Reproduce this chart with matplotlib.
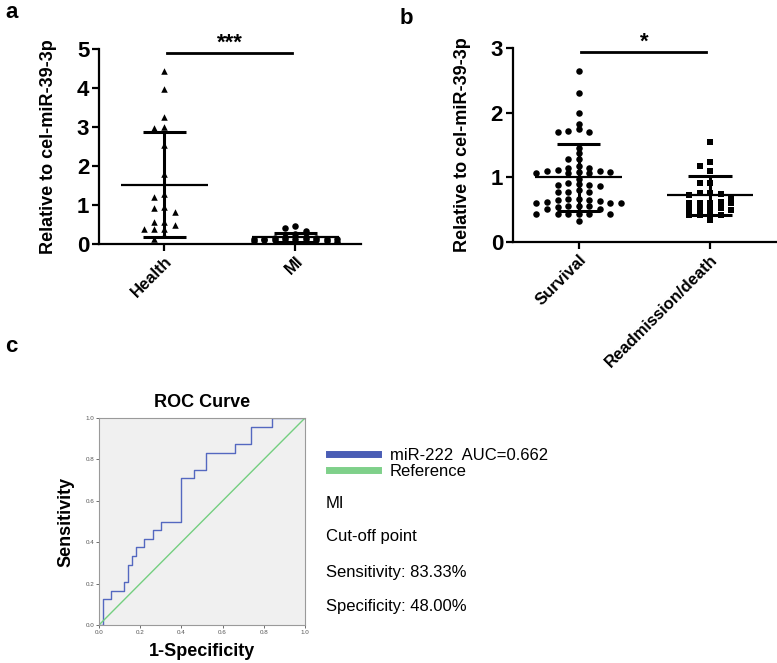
import numpy as np
import matplotlib
matplotlib.use("Agg")
import matplotlib.pyplot as plt
from matplotlib.lines import Line2D

plt.rcParams['font.family'] = ['Liberation Sans', 'DejaVu Sans']

# panel a: expression relative to cel-miR-39-3p
groups_a = ['Health', 'MI']
health = [4.44, 3.97, 3.25, 2.99, 2.98, 2.54, 1.79, 1.29, 1.20, 0.96, 0.92,
          0.82, 0.57, 0.57, 0.49, 0.39, 0.38, 0.38, 0.24, 0.13]
mi = [0.47, 0.42, 0.33, 0.26, 0.18, 0.18, 0.16, 0.15, 0.14, 0.14, 0.13, 0.13,
      0.12, 0.12, 0.12, 0.10, 0.10, 0.09, 0.08, 0.07, 0.06, 0.06, 0.05, 0.03]
mean_a = [1.52, 0.17]
sd_a = [1.35, 0.12]

# panel b: survival vs readmission/death
groups_b = ['Survival', 'Readmission/death']
survival = [2.65, 2.31, 2.00, 1.83, 1.75, 1.72, 1.70, 1.70, 1.45, 1.37, 1.28,
            1.28, 1.17, 1.15, 1.14, 1.12, 1.10, 1.10, 1.09, 1.08, 1.07, 1.06,
            1.06, 0.97, 0.92, 0.89, 0.88, 0.88, 0.87, 0.81, 0.78, 0.78, 0.77,
            0.66, 0.66, 0.65, 0.65, 0.63, 0.62, 0.61, 0.60, 0.60, 0.55, 0.55,
            0.55, 0.54, 0.51, 0.51, 0.44, 0.44, 0.44, 0.44, 0.44, 0.44, 0.33]
readmit = [1.54, 1.23, 1.17, 1.10, 0.92, 0.92, 0.75, 0.75, 0.74, 0.73, 0.69,
           0.61, 0.61, 0.62, 0.61, 0.60, 0.51, 0.51, 0.52, 0.51, 0.50, 0.42,
           0.42, 0.42, 0.42, 0.34]
mean_b = [1.00, 0.72]
sd_b = [0.52, 0.30]

# panel c: ROC curve
roc_fpr = [0, 0.02, 0.06, 0.12, 0.14, 0.16, 0.18, 0.22, 0.26, 0.30, 0.40,
           0.46, 0.52, 0.66, 0.74, 0.84, 1.00]
roc_tp = [0, 3, 4, 5, 7, 8, 9, 10, 11, 12, 17, 18, 20, 21, 23, 24, 24]
n_pos = 24
roc_label = 'miR-222  AUC=0.662'
cutoff_lines = ['MI', 'Cut-off point', 'Sensitivity: 83.33%', 'Specificity: 48.00%']


def swarm(vals, step, ytol, maxk=4):
    # put each point in the slot nearest the centre that is still free,
    # falling back to the least crowded slot when all are taken
    placed = []
    xs = []
    order = [0]
    for k in range(1, maxk + 1):
        order += [-k, k]
    for v in vals:
        best, best_gap = order[0], -1
        for k in order:
            gaps = [abs(v - pv) for pv, pk in placed if pk == k]
            gap = min(gaps) if gaps else 99
            if gap >= ytol:
                best = k
                break
            if gap > best_gap:
                best, best_gap = k, gap
        placed.append((v, best))
        xs.append(best * step)
    return np.array(xs)


def dot_panel(ax, data, groups, means, sds, markers, ymax, ytol, sig):
    for i, (vals, m) in enumerate(zip(data, markers)):
        xs = i + swarm(vals, 0.08, ytol)
        ax.scatter(xs, vals, marker=m, s=22, color='black', linewidths=0, zorder=3)
        ax.hlines(means[i], i - 0.33, i + 0.33, color='black', lw=1.6, zorder=4)
        ax.vlines(i, means[i] - sds[i], means[i] + sds[i], color='black', lw=2.2, zorder=4)
        ax.hlines([means[i] - sds[i], means[i] + sds[i]], i - 0.165, i + 0.165,
                  color='black', lw=2.2, zorder=4)
    ax.set_xlim(-0.5, 1.5)
    ax.set_ylim(0, ymax)
    ax.set_yticks(range(0, ymax + 1))
    ax.set_xticks([0, 1])
    ax.set_xticklabels(groups, rotation=45, ha='right', rotation_mode='anchor',
                       fontsize=12, fontweight='bold')
    for lab in ax.get_yticklabels():
        lab.set_fontsize(16)
        lab.set_fontweight('bold')
    ax.spines[['top', 'right']].set_visible(False)
    ax.spines[['left', 'bottom']].set_linewidth(1.6)
    ax.tick_params(width=1.6, length=5, pad=2)
    ax.set_ylabel('Relative to cel-miR-39-3p', fontsize=13, fontweight='bold', labelpad=14)
    top = ymax * 0.98
    ax.plot([0.02, 0.97], [top, top], color='black', lw=2, clip_on=False)
    ax.text(0.5, top - ymax * 0.005, sig, ha='center', va='bottom', fontsize=16,
            fontweight='bold', clip_on=False)


fig = plt.figure(figsize=(7.77, 6.63), dpi=100)

ax_a = fig.add_axes([0.1274, 0.632, 0.3372, 0.2941])
dot_panel(ax_a, [health, mi], groups_a, mean_a, sd_a, ['^', 'o'], 5, 0.15, '***')

ax_b = fig.add_axes([0.660, 0.635, 0.3385, 0.2926])
dot_panel(ax_b, [survival, readmit], groups_b, mean_b, sd_b, ['o', 's'], 3, 0.075, '*')

ax_c = fig.add_axes([0.1274, 0.0573, 0.2651, 0.3122])
ax_c.set_facecolor('#f0f0f0')
ax_c.plot(roc_fpr, np.array(roc_tp) / n_pos, drawstyle='steps-post', color='#5468c0',
          lw=1.0, label=roc_label)
ax_c.plot([0, 1], [0, 1], color='#74cf80', lw=1.0, label='Reference')
ax_c.set_xlim(0, 1)
ax_c.set_ylim(0, 1)
ticks = np.arange(0, 1.01, 0.2)
ax_c.set_xticks(ticks)
ax_c.set_yticks(ticks)
ax_c.set_xticklabels(['%.1f' % t for t in ticks])
ax_c.set_yticklabels(['%.1f' % t for t in ticks])
ax_c.tick_params(labelsize=4.5, length=2, width=0.6, colors='#555555', pad=1.5)
for s in ax_c.spines.values():
    s.set_color('#9a9a9a')
    s.set_linewidth(0.8)
ax_c.set_title('ROC Curve', fontsize=13, fontweight='bold', pad=8)
ax_c.set_xlabel('1-Specificity', fontsize=13, fontweight='bold', labelpad=6)
ax_c.set_ylabel('Sensitivity', fontsize=13, fontweight='bold', labelpad=8)

handles = [Line2D([], [], color='#4a5db5', lw=5), Line2D([], [], color='#7fd08a', lw=5)]
fig.legend(handles, [roc_label, 'Reference'], loc='upper left',
           bbox_to_anchor=(0.413, 0.337), frameon=False, fontsize=12,
           handlelength=2.9, handletextpad=0.75, labelspacing=0.08, borderpad=0)

ys = [503, 537, 572, 607]
for txt, y in zip(cutoff_lines, ys):
    fig.text(326 / 777, 1 - y / 663, txt, fontsize=12, va='center', ha='left')

fig.text(5 / 777, 1 - 12 / 663, 'a', fontsize=16, fontweight='bold', va='center')
fig.text(400 / 777, 1 - 18 / 663, 'b', fontsize=16, fontweight='bold', va='center')
fig.text(5 / 777, 1 - 347 / 663, 'c', fontsize=16, fontweight='bold', va='center')

fig.savefig('out.png', dpi=100)
